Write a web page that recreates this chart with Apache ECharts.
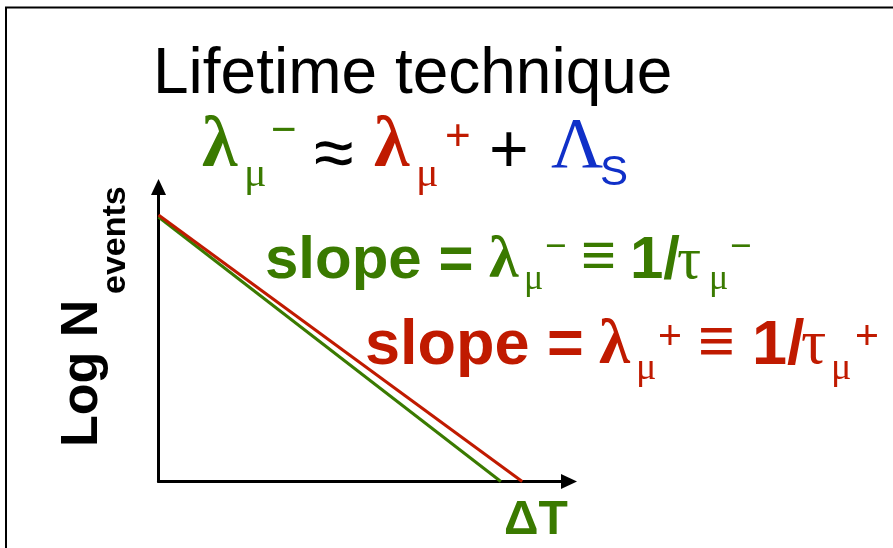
<!DOCTYPE html>
<html>
<head>
<meta charset="utf-8">
<script src="https://cdn.jsdelivr.net/npm/echarts@6/dist/echarts.min.js"></script>
<style>html,body{margin:0;padding:0;background:#fff}#c{width:893px;height:548px}</style>
</head>
<body>
<div id="c"></div>
<script>
// ---- data ----
const greenLine = [[0, 89.8], [83.4, 0]]; // μ− decay (log N vs ΔT)
const redLine = [[0, 90.5], [88.6, 0]];   // μ+ decay
const titleText = 'Lifetime technique';
const yLabelMain = 'Log N';
const yLabelSub = 'events';
const xLabel = 'ΔT';

const GREEN = '#3a7a00', RED = '#c01a00', BLUE = '#1030c8', BLACK = '#000';
const SANS = '"Liberation Sans", Arial, sans-serif';
const SERIF = '"Liberation Serif", "Times New Roman", serif';

// text placed by glyph baseline (converted to zrender middle anchor)
function T(text, x, baseline, size, color, opts) {
  opts = opts || {};
  const fam = opts.serif ? SERIF : SANS;
  const k = opts.serif ? 0.3375 : 0.3465;
  const y = opts.center != null ? opts.center : baseline - k * size;
  return {
    type: 'text', x: x, y: y, z: 10,
    rotation: opts.rotation || 0,
    style: {
      text: text, fill: color,
      font: (opts.bold ? 'bold ' : '') + size + 'px ' + fam,
      align: 'left', verticalAlign: 'middle'
    }
  };
}

const graphics = [
  { type: 'rect', shape: { x: 6, y: 7.5, width: 1000, height: 1000 },
    style: { fill: 'none', stroke: BLACK, lineWidth: 2 }, z: 1 },
  // title
  T(titleText, 153, 98, 64, BLACK),
  // λμ− ≈ λμ+ + ΛS
  T('λ', 202, 172, 72, GREEN, { serif: true, bold: true }),
  T('μ', 244, 189, 42, GREEN, { serif: true }),
  T('−', 271, 0, 44, GREEN, { center: 132 }),
  T('≈', 314, 0, 72, BLACK, { center: 157 }),
  T('λ', 374, 172, 72, RED, { serif: true, bold: true }),
  T('μ', 416, 189, 42, RED, { serif: true }),
  T('+', 445, 0, 44, RED, { center: 138 }),
  T('+', 489, 0, 68, BLACK, { center: 153 }),
  T('Λ', 551, 172, 72, BLUE, { serif: true }),
  T('S', 600, 188, 42, BLUE),
  // green slope line
  T('slope =', 265, 282, 60, GREEN, { bold: true }),
  T('λ', 489, 282, 60, GREEN, { serif: true, bold: true }),
  T('μ', 524, 292, 36, GREEN, { serif: true }),
  T('−', 545, 0, 37, GREEN, { center: 248 }),
  T('≡', 581, 0, 60, GREEN, { bold: true, center: 258 }),
  T('1/', 630, 282, 60, GREEN, { bold: true }),
  T('τ', 677, 282, 60, GREEN, { serif: true }),
  T('μ', 709, 292, 36, GREEN, { serif: true }),
  T('−', 730, 0, 37, GREEN, { center: 248 }),
  // red slope line
  T('slope =', 365, 368, 63, RED, { bold: true }),
  T('λ', 599, 368, 63, RED, { serif: true, bold: true }),
  T('μ', 636, 382, 38, RED, { serif: true }),
  T('+', 658, 0, 41, RED, { center: 338 }),
  T('≡', 698, 0, 63, RED, { bold: true, center: 345 }),
  T('1/', 752, 368, 63, RED, { bold: true }),
  T('τ', 801, 368, 63, RED, { serif: true }),
  T('μ', 831, 382, 38, RED, { serif: true }),
  T('+', 855, 0, 41, RED, { center: 338 }),
  // y label (rotated)
  T(yLabelMain, 83, 0, 52, BLACK, { bold: true, center: 447, rotation: Math.PI / 2 }),
  T(yLabelSub, 116, 0, 34, BLACK, { bold: true, center: 294, rotation: Math.PI / 2 }),
  // x label
  T(xLabel, 504, 537, 48, GREEN, { bold: true })
];

const chart = echarts.init(document.getElementById('c'), null, { renderer: 'canvas' });
const axisCommon = {
  type: 'value', min: 0, max: 100,
  axisLine: { show: true, symbol: ['none', 'triangle'], symbolSize: [15, 16],
    lineStyle: { color: BLACK, width: 3 } },
  axisTick: { show: false }, axisLabel: { show: false }, splitLine: { show: false }
};
chart.setOption({
  animation: false,
  backgroundColor: '#fff',
  grid: { left: 158.5, top: 187, right: 324, bottom: 66.5, containLabel: false },
  xAxis: Object.assign({}, axisCommon),
  yAxis: Object.assign({}, axisCommon),
  series: [
    { type: 'line', data: greenLine, showSymbol: false, lineStyle: { color: GREEN, width: 3 }, z: 3 },
    { type: 'line', data: redLine, showSymbol: false, lineStyle: { color: RED, width: 3 }, z: 4 }
  ],
  graphic: graphics
});
</script>
</body>
</html>
